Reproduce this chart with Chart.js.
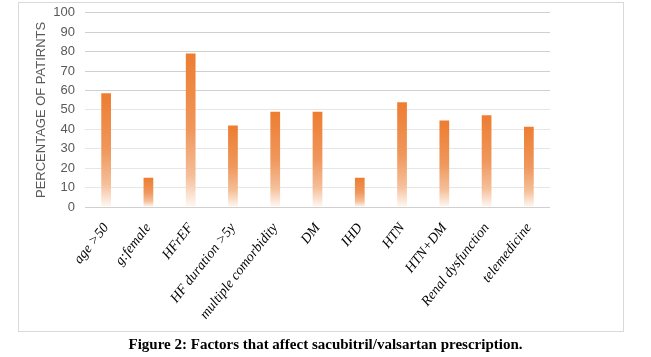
<!DOCTYPE html>
<html>
<head>
<meta charset="utf-8">
<script src="https://cdn.jsdelivr.net/npm/chart.js@4.4.1/dist/chart.umd.min.js"></script>
<style>
  html, body { margin: 0; padding: 0; background: #fff; }
  #wrap { position: relative; width: 651px; height: 357px; overflow: hidden; }
  #box { position: absolute; left: 18px; top: 2px; width: 604px; height: 328px; border: 1px solid #d9d9d9; }
  #c { position: absolute; left: 0; top: -5px; }
  #cap { position: absolute; left: 0; width: 651px; top: 336px; text-align: center;
         font-family: "Liberation Serif", "Times New Roman", serif; font-weight: bold; font-size: 15px; color: #000; }
</style>
</head>
<body>
<div id="wrap">
  <div id="box"></div>
  <canvas id="c" width="651" height="357"></canvas>
  <div id="cap">Figure 2: Factors that affect sacubitril/valsartan prescription.</div>
</div>
<script>
const categories = ["age >50", "g:female", "HFrEF", "HF duration >5y", "multiple comorbidity", "DM", "IHD", "HTN", "HTN+DM", "Renal dysfunction", "telemedicine"];
const percentages = [58.6, 15, 79, 42, 49, 49, 15, 54, 44.5, 47.3, 41.3];
const yTicks = [0, 10, 20, 30, 40, 50, 60, 70, 80, 90, 100];
const yTitle = "PERCENTAGE OF PATIRNTS";

function barGradient(c) {
  const chart = c.chart;
  const ys = chart.scales && chart.scales.y;
  if (!chart.chartArea || !ys || c.raw === undefined) return '#ED7D31';
  const top = ys.getPixelForValue(c.raw);
  const base = ys.getPixelForValue(0);
  if (!isFinite(top) || !isFinite(base) || base - top < 1) return '#ED7D31';
  const g = chart.ctx.createLinearGradient(0, top, 0, base);
  g.addColorStop(0, '#ED7D31');
  g.addColorStop(0.5, '#F0975C');
  g.addColorStop(0.8, '#F5BF99');
  g.addColorStop(1, '#FFF8F3');
  return g;
}

new Chart(document.getElementById('c'), {
  type: 'bar',
  data: {
    labels: categories,
    datasets: [{
      data: percentages,
      backgroundColor: barGradient,
      borderWidth: 0,
      categoryPercentage: 1.0,
      barPercentage: 0.23
    }]
  },
  options: {
    responsive: false,
    animation: false,
    devicePixelRatio: 1,
    layout: { padding: { left: 34, right: 101, top: 6, bottom: 0 } },
    plugins: { legend: { display: false }, tooltip: { enabled: false } },
    scales: {
      x: {
        afterFit(scale) { scale.height = 145; },
        grid: { display: false, drawTicks: false },
        border: { display: false },
        ticks: {
          minRotation: 52, maxRotation: 52, autoSkip: false, padding: 13,
          color: '#000',
          font: { family: '"Liberation Serif", "Times New Roman", serif', style: 'italic', size: 14 }
        }
      },
      y: {
        min: 0, max: 100,
        afterFit(scale) { scale.width = 51; },
        afterBuildTicks(scale) { scale.ticks = yTicks.map(v => ({ value: v })); },
        grid: {
          drawTicks: false,
          color: ctx => (ctx.tick && (ctx.tick.value >= 60 || ctx.tick.value === 0)) ? '#d0d0d0' : '#e6e6e6',
          lineWidth: 1
        },
        border: { display: false },
        ticks: {
          padding: 10,
          color: '#595959',
          font: { family: '"Liberation Sans Narrow", "Liberation Sans", Arial, sans-serif', size: 13 }
        },
        title: {
          display: true, text: yTitle, color: '#595959', padding: { top: 0, bottom: 2 },
          font: { family: '"Liberation Sans", Arial, sans-serif', size: 13 }
        }
      }
    }
  }
});
</script>
</body>
</html>
